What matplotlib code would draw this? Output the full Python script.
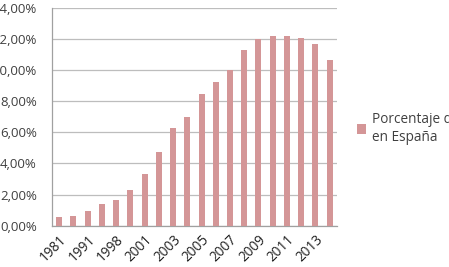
import matplotlib
matplotlib.use("Agg")
import matplotlib.pyplot as plt
import numpy as np

years = ["1981", "1986", "1991", "1996", "1998", "2000", "2001", "2002", "2003", "2004",
         "2005", "2006", "2007", "2008", "2009", "2010", "2011", "2012", "2013", "2014"]
values = [0.54, 0.64, 0.93, 1.38, 1.62, 2.28, 3.31, 4.73, 6.25, 7.02,
          8.46, 9.27, 9.99, 11.29, 11.98, 12.19, 12.19, 12.09, 11.70, 10.67]
series_name = "Porcentaje de extranjeros\nen España"
yticks = [0, 2, 4, 6, 8, 10, 12, 14]

plt.rcParams['font.family'] = ['Open Sans', 'DejaVu Sans']

fig = plt.figure(figsize=(4.49, 2.67), dpi=100)
ax = fig.add_axes([0.116, 0.155, 0.634, 0.815])

x = np.arange(len(years))
bars = ax.bar(x, values, width=0.42, color="#D49697", label=series_name, zorder=3)

ax.set_xlim(-0.5, len(years) - 0.5)
ax.set_ylim(0, 14)
ax.set_yticks(yticks)
ax.set_yticklabels([f"{v:.2f}%".replace(".", ",") for v in yticks], fontsize=9.5, color="#404040")
ax.tick_params(axis="y", length=0, pad=11)
ax.grid(axis="y", color="#BDBDBD", linewidth=0.9, zorder=0)

ax.set_xticks(x[::2])
ax.set_xticklabels(years[::2], rotation=45, ha="right", va="top", rotation_mode="anchor",
                   fontsize=9.8, color="#202020")
ax.tick_params(axis="x", length=0, pad=5)

for s in ["top", "right"]:
    ax.spines[s].set_visible(False)
for s in ["left", "bottom"]:
    ax.spines[s].set_color("#A0A0A0")
    ax.spines[s].set_linewidth(0.9)

leg = fig.legend(handles=[bars], labels=[series_name], loc="upper left",
                 bbox_to_anchor=(0.767, 0.625), frameon=False, fontsize=9.8,
                 handlelength=0.7, handleheight=0.7, handletextpad=0.4,
                 labelspacing=0.2, labelcolor="#404040")

fig.savefig("out.png", dpi=100)
